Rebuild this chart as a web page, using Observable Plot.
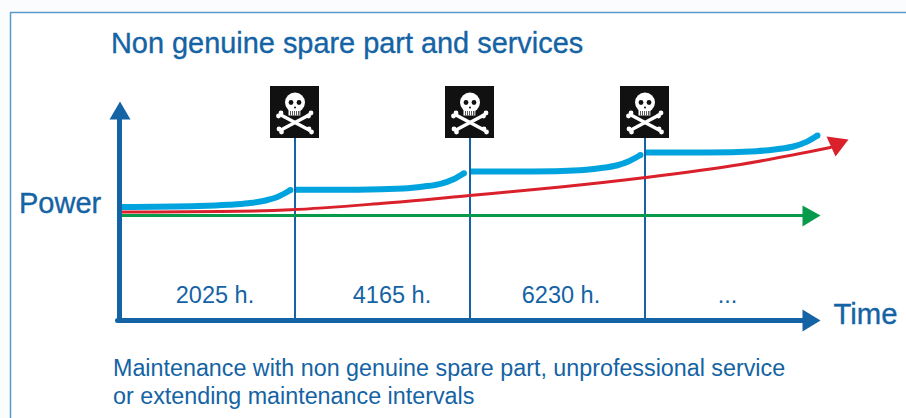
<!DOCTYPE html>
<html>
<head>
<meta charset="utf-8">
<script src="https://cdn.jsdelivr.net/npm/d3@7"></script>
<script src="https://cdn.jsdelivr.net/npm/@observablehq/plot@0.6"></script>
<style>
html,body{margin:0;padding:0;background:#fafcfe;}
svg{display:block;font-family:"Liberation Sans",Arial,sans-serif;}
</style>
</head>
<body>
<div id="chart"></div>
<script>
const BLUE = "#1463a4", CYAN = "#00a3de", RED = "#d9202b", GREEN = "#079a4b";

const title = "Non genuine spare part and services";
const captions = ["Maintenance with non genuine spare part, unprofessional service", "or extending maintenance intervals"];
const captionBaselines = [375, 403];
const intervalLabels = ["2025 h.", "4165 h.", "6230 h.", "..."];
const intervalCentres = [214.5, 391.5, 560.5, 727];
const flagTimes = [294.5, 469.5, 644.5];

const powerSeg1 = [[119,206.5],[198,205.5],[228,204.3],[248,202.7],[265,200],[278,196],[290,189.5]];
const powerSeg2 = [[294,189.3],[357,189.2],[403,188],[423,186],[440,183.3],[453,178.7],[463.5,172.7]];
const powerSeg3 = [[470,171],[532,171],[579,169.7],[599,167.7],[616,165],[629,160.4],[640,154.5]];
const powerSeg4 = [[645,152],[707,152],[756,150.7],[776,148.7],[793,146],[806,141.4],[817,135]];
const redLine = [[119,211.5],[220,211],[290,209.3],[380,203],[469,195],[560,186.5],[645,177],[740,164],[830,147]];
const greenLine = [[119,215],[805,215]];

const yAxisLine = [[119,320],[119,116]];
const xAxisLine = [[117,320],[805,320]];
const yArrow = [[119.5,101],[130,119],[109,119]];
const xArrow = [[820,320],[802,309],[802,331]];
const greenArrow = [[820,215],[802,205],[802,226]];
const redArrow = [[826,136],[848,139],[835,156]];

const boneOffsets = [[-15,28,15,44],[15,28,-15,44]];
const toothOffsets = [-4.5,-2.5,-0.5,1.5,3.5,5];

const lineOf = (pts, o) => Plot.line(pts, {x: d => d[0], y: d => d[1], ...o});
const triangle = (pts, fill) => Plot.line([...pts, pts[0]], {x: d => d[0], y: d => d[1], fill, stroke: "none", curve: "linear"});

const flags = flagTimes.map(x => ({x}));
const bones = flagTimes.flatMap(x => boneOffsets.map(b => ({x1: x + b[0], y1: 86 + b[1], x2: x + b[2], y2: 86 + b[3]})));
const knobs = bones.flatMap(b => [
  {x: b.x1 - 1.5, y: b.y1 + 1.5}, {x: b.x1 + 1, y: b.y1 - 1.5},
  {x: b.x2 + 1.5, y: b.y2 + 1.5}, {x: b.x2 - 1, y: b.y2 - 1.5},
  ]);
const teeth = flagTimes.flatMap(x => toothOffsets.map(t => ({x: x + t})));
const segs = [powerSeg1, powerSeg2, powerSeg3, powerSeg4];
const segEnds = segs.map(s => s[s.length - 1]);

const labelStyle = {fill: BLUE, fontFamily: "Liberation Sans", lineAnchor: "bottom"};
const heavy = {stroke: BLUE, strokeWidth: 0.35};

const plot = Plot.plot({
  width: 906, height: 418,
  margin: 0,
  x: {domain: [0, 906], range: [0, 906], axis: null},
  y: {domain: [0, 418], range: [0, 418], axis: null},
  style: {background: "transparent"},
  marks: [
    Plot.rect([{x1: 10, x2: 906, y1: 12, y2: 418}], {x1: "x1", x2: "x2", y1: "y1", y2: "y2", fill: "white"}),
    Plot.ruleY([12], {x1: 10, x2: 906, stroke: "#5b9ac8", strokeWidth: 1.5}),
    Plot.ruleX([10], {y1: 12, y2: 418, stroke: "#5b9ac8", strokeWidth: 1.5}),

    ...segs.map(s => lineOf(s, {stroke: CYAN, strokeWidth: 6, curve: "monotone-x", strokeLinecap: "butt"})),
    Plot.dot(segEnds, {x: d => d[0], y: d => d[1], r: 3, fill: CYAN}),

    Plot.ruleX(flagTimes, {y1: 138, y2: 320, stroke: BLUE, strokeWidth: 2}),

    lineOf(greenLine, {stroke: GREEN, strokeWidth: 3}),
    triangle(greenArrow, GREEN),
    lineOf(redLine, {stroke: RED, strokeWidth: 3, curve: "monotone-x"}),
    triangle(redArrow, RED),

    lineOf(yAxisLine, {stroke: BLUE, strokeWidth: 5}),
    triangle(yArrow, BLUE),
    lineOf(xAxisLine, {stroke: BLUE, strokeWidth: 5}),
    triangle(xArrow, BLUE),

    Plot.rect(flags, {x1: d => d.x - 24.5, x2: d => d.x + 24.5, y1: 86, y2: 138, fill: "#111111"}),
    Plot.dot(flags, {x: "x", y: 102, r: 10, fill: "white"}),
    Plot.rect(flags, {x1: d => d.x - 6, x2: d => d.x + 6, y1: 107, y2: 115.5, fill: "white"}),
    Plot.ruleX(teeth, {x: "x", y1: 111, y2: 115.5, stroke: "#111111", strokeWidth: 0.7}),
    Plot.dot(flags, {x: d => d.x - 4, y: 102, r: 2.4, fill: "#111111"}),
    Plot.dot(flags, {x: d => d.x + 4, y: 102, r: 2.4, fill: "#111111"}),
    Plot.dot(flags, {x: "x", y: 107, r: 1, fill: "#111111"}),
    Plot.link(bones, {x1: "x1", y1: "y1", x2: "x2", y2: "y2", stroke: "white", strokeWidth: 3.5}),
    Plot.dot(knobs, {x: "x", y: "y", r: 2.4, fill: "white"}),

    Plot.text([title], {x: 110.5, y: 52, text: d => d, textAnchor: "start", fontSize: 28.9, ...labelStyle, ...heavy}),
    Plot.text(["Power"], {x: 18.5, y: 212, text: d => d, textAnchor: "start", fontSize: 29, ...labelStyle, ...heavy}),
    Plot.text(["Time"], {x: 833, y: 323, text: d => d, textAnchor: "start", fontSize: 29.3, ...labelStyle, ...heavy}),
    Plot.text(intervalLabels, {x: (d, i) => intervalCentres[i], y: 302, text: d => d, textAnchor: "middle", fontSize: 23.5, ...labelStyle}),
    Plot.text(captions, {x: 112.5, y: (d, i) => captionBaselines[i], text: d => d, textAnchor: "start", fontSize: 23.3, ...labelStyle})
  ]
});
document.getElementById("chart").append(plot);
</script>
</body>
</html>
